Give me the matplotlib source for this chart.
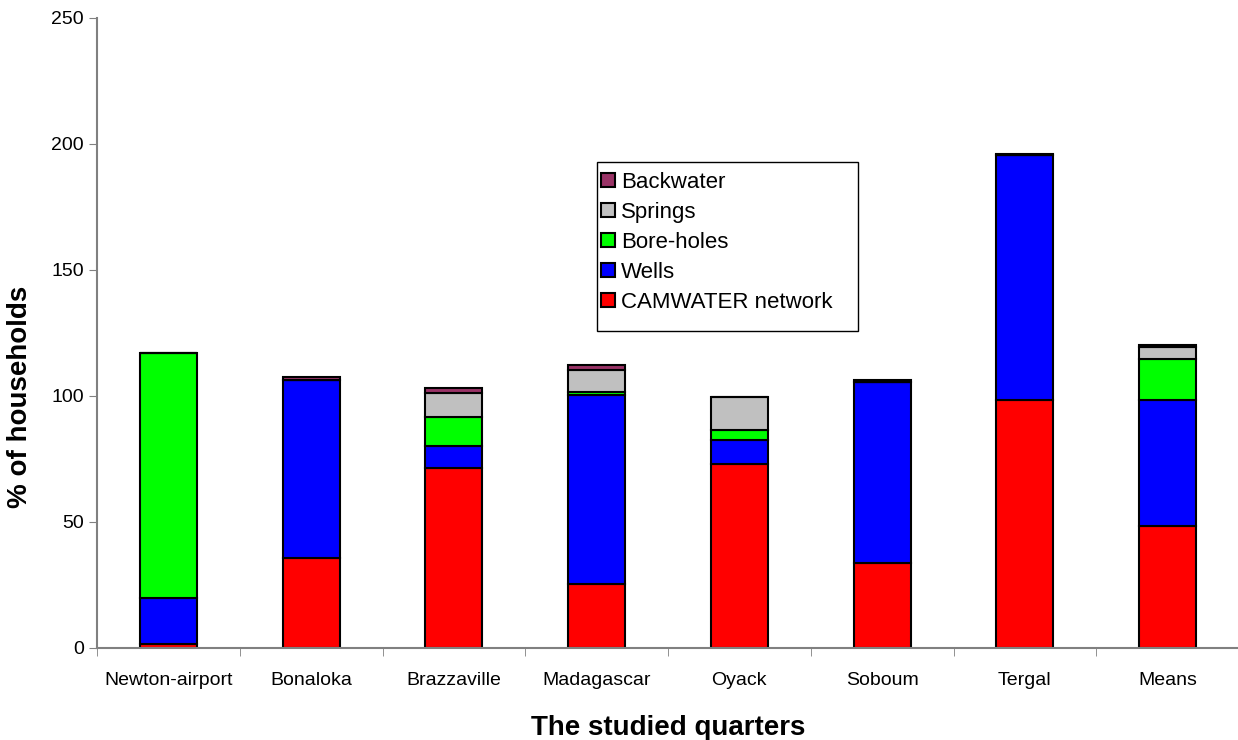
import numpy as np
import matplotlib.pyplot as plt
from matplotlib.patches import Rectangle

plt.rcParams['font.family'] = ['Liberation Sans', 'DejaVu Sans']

quarters = ["Newton-airport", "Bonaloka", "Brazzaville", "Madagascar",
            "Oyack", "Soboum", "Tergal", "Means"]
camwater = [1.2, 35.5, 71.3, 25.2, 72.8, 33.6, 98.2, 48.1]
wells = [18.5, 70.7, 8.6, 75.1, 9.6, 72.0, 97.4, 50.3]
boreholes = [97.1, 0.0, 11.5, 1.0, 4.0, 0.0, 0.0, 16.3]
springs = [0.0, 0.0, 9.8, 8.9, 13.0, 0.0, 0.0, 4.8]
backwater = [0.0, 1.3, 2.0, 2.0, 0.0, 0.6, 0.5, 0.8]

series = [
    ("CAMWATER network", camwater, "#ff0000"),
    ("Wells", wells, "#0000ff"),
    ("Bore-holes", boreholes, "#00ff00"),
    ("Springs", springs, "#c0c0c0"),
    ("Backwater", backwater, "#993366"),
]

W, H = 1238, 740
fig = plt.figure(figsize=(W / 100, H / 100), dpi=100)
ax = fig.add_axes([97 / W, 92.5 / H, 1142 / W, 629.5 / H])

x = np.arange(len(quarters))
bottom = np.zeros(len(quarters))
handles = []
for name, vals, col in series:
    vals = np.array(vals)
    b = ax.bar(x, vals, 0.4, bottom=bottom, color=col, edgecolor="black",
               linewidth=1.5, label=name)
    handles.append(b)
    bottom += vals

ax.set_xlim(-0.5, len(quarters) - 0.5)
ax.set_ylim(0, 250)
ax.set_yticks([0, 50, 100, 150, 200, 250])
ax.set_xticks(x)
ax.set_xticklabels(quarters, fontsize=14)
ax.set_xticks(np.arange(len(quarters) + 1) - 0.5, minor=True)
ax.tick_params(axis="x", which="major", length=0, pad=17.5)
ax.tick_params(axis="x", which="minor", length=6, color="#808080")
ax.tick_params(axis="y", labelsize=14, length=6, color="#808080")

for s in ["top", "right"]:
    ax.spines[s].set_visible(False)
for s in ["left", "bottom"]:
    ax.spines[s].set_color("#808080")
    ax.spines[s].set_linewidth(1.5)

ax.set_ylabel("% of households", fontsize=20, fontweight="bold")
ax.yaxis.set_label_coords(-0.056, 0.398)
ax.set_xlabel("The studied quarters", fontsize=20, fontweight="bold", labelpad=19)

# legend frame drawn separately (taller than entries, like the original)
fig.patches.append(Rectangle((597 / W, 1 - 331 / H), 261 / W, 169 / H,
                             transform=fig.transFigure, fill=True,
                             facecolor="white", edgecolor="black", linewidth=1.0,
                             zorder=5))
leg = fig.legend(handles[::-1], [s[0] for s in series][::-1],
                 loc="upper left", bbox_to_anchor=(599 / W, 1 - 170 / H),
                 fontsize=16, frameon=False,
                 handlelength=0.6, handleheight=0.6, handletextpad=0.3,
                 labelspacing=0.4, borderaxespad=0, borderpad=0.1)
leg.set_zorder(6)

fig.savefig("out.png", dpi=100)
